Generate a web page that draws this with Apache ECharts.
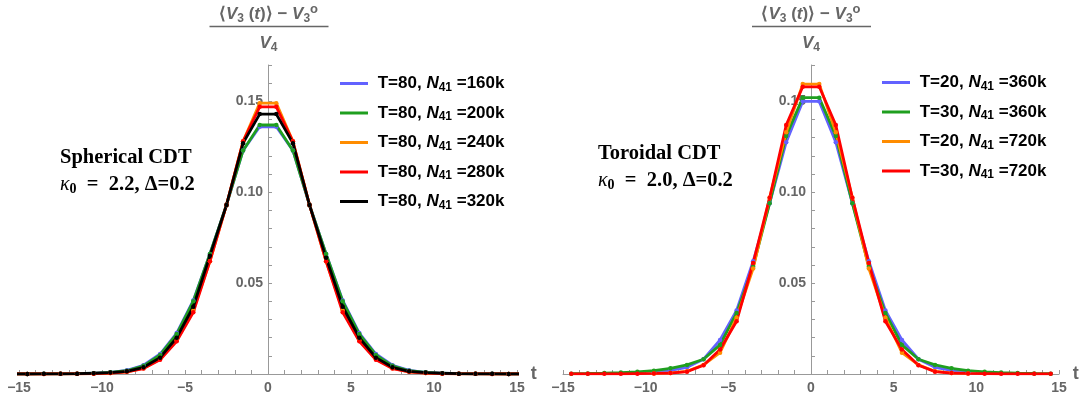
<!DOCTYPE html>
<html><head><meta charset="utf-8">
<script src="https://cdn.jsdelivr.net/npm/echarts@6/dist/echarts.min.js"></script>
<style>html,body{margin:0;padding:0;background:#fff}#c{width:1086px;height:402px}</style>
</head><body><div id="c"></div>
<script>
// ---- Data ----
const tSph = [-15.5,-14.5,-13.5,-12.5,-11.5,-10.5,-9.5,-8.5,-7.5,-6.5,-5.5,-4.5,-3.5,-2.5,-1.5,-0.5,0.5,1.5,2.5,3.5,4.5,5.5,6.5,7.5,8.5,9.5,10.5,11.5,12.5,13.5,14.5,15.5];
const sph160k = [0,0,0.0001,0.0001,0.0002,0.0004,0.0009,0.002,0.0048,0.011,0.0225,0.0405,0.066,0.093,0.123,0.136,0.136,0.123,0.093,0.066,0.0405,0.0225,0.011,0.0048,0.002,0.0009,0.0004,0.0002,0.0001,0.0001,0,0];
const sph200k = [0,0,0.0001,0.0001,0.0002,0.0004,0.0009,0.0018,0.0045,0.0105,0.022,0.040,0.066,0.093,0.123,0.137,0.137,0.123,0.093,0.066,0.040,0.022,0.0105,0.0045,0.0018,0.0009,0.0004,0.0002,0.0001,0.0001,0,0];
const sph240k = [0,0,0,0.0001,0.0001,0.0002,0.0005,0.0012,0.0032,0.0082,0.0185,0.035,0.062,0.093,0.128,0.149,0.149,0.128,0.093,0.062,0.035,0.0185,0.0082,0.0032,0.0012,0.0005,0.0002,0.0001,0.0001,0,0,0];
const sph280k = [0,0,0,0.0001,0.0001,0.0002,0.0005,0.0012,0.003,0.0078,0.018,0.034,0.062,0.093,0.128,0.147,0.147,0.128,0.093,0.062,0.034,0.018,0.0078,0.003,0.0012,0.0005,0.0002,0.0001,0.0001,0,0,0];
const sph320k = [0,0,0.0001,0.0001,0.0002,0.0004,0.0008,0.0015,0.0037,0.009,0.020,0.037,0.065,0.093,0.127,0.143,0.143,0.127,0.093,0.064,0.037,0.020,0.009,0.0037,0.0015,0.0008,0.0004,0.0002,0.0001,0.0001,0,0];

const tTor20 = [-9.5,-8.5,-7.5,-6.5,-5.5,-4.5,-3.5,-2.5,-1.5,-0.5,0.5,1.5,2.5,3.5,4.5,5.5,6.5,7.5,8.5,9.5];
const tTor30 = [-14.5,-13.5,-12.5,-11.5,-10.5,-9.5,-8.5,-7.5,-6.5,-5.5,-4.5,-3.5,-2.5,-1.5,-0.5,0.5,1.5,2.5,3.5,4.5,5.5,6.5,7.5,8.5,9.5,10.5,11.5,12.5,13.5,14.5];
const torT20N360 = [0.001,0.002,0.0037,0.0081,0.0187,0.035,0.062,0.094,0.1275,0.150,0.150,0.1275,0.094,0.062,0.035,0.0187,0.0081,0.0037,0.002,0.001];
const torT30N360 = [0.0002,0.0003,0.0005,0.0008,0.0012,0.0018,0.0031,0.005,0.0081,0.016,0.0335,0.059,0.094,0.131,0.152,0.152,0.131,0.094,0.059,0.0335,0.016,0.0081,0.005,0.0031,0.0018,0.0012,0.0008,0.0005,0.0003,0.0002];
const torT20N720 = [0.0003,0.0006,0.0015,0.005,0.0117,0.031,0.058,0.097,0.133,0.1595,0.1595,0.133,0.097,0.058,0.031,0.0117,0.005,0.0015,0.0006,0.0003];
const torT30N720 = [0.0001,0.0001,0.0001,0.0001,0.0002,0.0003,0.0005,0.0013,0.0048,0.0135,0.029,0.061,0.097,0.137,0.158,0.158,0.137,0.097,0.061,0.029,0.0135,0.0048,0.0013,0.0005,0.0003,0.0002,0.0001,0.0001,0.0001,0.0001];

const namesSph = ['T=80, N41=160k','T=80, N41=200k','T=80, N41=240k','T=80, N41=280k','T=80, N41=320k'];
const namesTor = ['T=20, N41=360k','T=30, N41=360k','T=20, N41=720k','T=30, N41=720k'];
const xTickLabels = {'-15':'\u221215','-10':'\u221210','-5':'\u22125','0':'0','5':'5','10':'10','15':'15'};
const yTickLabels = {5:'0.05',10:'0.10',15:'0.15'};

const C = {blue:'#6262ff', green:'#1f9f1f', orange:'#ff8c00', red:'#ff0000', black:'#000000'};
const zip = (xs, ys) => xs.map((x,i)=>[x, ys[i]]);

function xAx(gi){
  return {type:'value', gridIndex:gi, min:-15, max:15, interval:5,
    axisLine:{onZero:true, lineStyle:{color:'#999', width:1}},
    axisTick:{inside:true, length:4, lineStyle:{color:'#999'}},
    minorTick:{show:true, splitNumber:5, length:4, lineStyle:{color:'#999'}},
    splitLine:{show:false}, minorSplitLine:{show:false},
    axisLabel:{margin:7, color:'#666', fontWeight:'bold', fontSize:14, fontFamily:'Liberation Sans',
      formatter: v => xTickLabels[String(v)] ?? ''},
    name:'t', nameLocation:'end', nameGap:11,
    nameTextStyle:{color:'#666', fontWeight:'bold', fontSize:18, fontFamily:'Liberation Sans', verticalAlign:'middle', padding:[0,0,4,0]}
  };
}
function yAx(gi, off){
  return {type:'value', gridIndex:gi, min:0, max:0.17, interval:0.01, position:'left', offset:off,
    axisLine:{show:true, onZero:false, lineStyle:{color:'#999', width:1}},
    axisTick:{show:true, inside:true, length:4, lineStyle:{color:'#999'}},
    splitLine:{show:false},
    axisLabel:{margin:5, color:'#666', fontWeight:'bold', fontSize:14, fontFamily:'Liberation Sans',
      formatter: v => yTickLabels[Math.round(v*100)] ?? ''}
  };
}
function ser(name, xs, ys, color, gi){
  return {name, type:'line', xAxisIndex:gi, yAxisIndex:gi, data:zip(xs, ys),
    symbol:'circle', symbolSize:4.5, showSymbol:true, clip:true,
    lineStyle:{color, width:2.8}, itemStyle:{color}, emphasis:{disabled:true}};
}
const legRich = {
  b:{fontSize:17, fontWeight:'bold', color:'#000', fontFamily:'Liberation Sans', lineHeight:20},
  i:{fontSize:17, fontWeight:'bold', fontStyle:'italic', color:'#000', fontFamily:'Liberation Sans', lineHeight:20},
  s:{fontSize:12, fontWeight:'bold', color:'#000', fontFamily:'Liberation Sans', lineHeight:12, verticalAlign:'bottom'}
};
const legFmt = name => { const m = name.match(/^(T=\d+, )N41=(\d+k)$/); return '{b| ' + m[1] + '}{i|N}{s|41}{b| =' + m[2] + '}'; };
function leg(data, left, top){
  return {data, left, top, orient:'vertical', icon:'rect', itemWidth:28, itemHeight:3, itemGap:11,
    selectedMode:false, formatter:legFmt, textStyle:{rich:legRich}, padding:0};
}

const fracRich = {
  v:{fontFamily:'Liberation Sans', fontWeight:'bold', fontStyle:'italic', fontSize:17, fill:'#666', lineHeight:22},
  a:{fontFamily:'Liberation Sans', fontWeight:'bold', fontSize:17, fill:'#666', lineHeight:22},
  s:{fontFamily:'Liberation Sans', fontWeight:'bold', fontSize:12, fill:'#666', lineHeight:13, verticalAlign:'bottom'},
  p:{fontFamily:'Liberation Sans', fontWeight:'bold', fontSize:13, fill:'#666', lineHeight:13, verticalAlign:'top'}
};
function frac(cx){
  return [
    {type:'text', x:cx, y:14, z:10, style:{text:'{a|\u27E8}{v|V}{s|3}{a| (}{v|t}{a|)\u27E9 \u2212 }{v|V}{s|3}{p|o}', rich:fracRich, align:'center', verticalAlign:'middle', textAlign:'center', textVerticalAlign:'middle'}},
    {type:'line', z:10, shape:{x1:cx-59, y1:26.5, x2:cx+60, y2:26.5}, style:{stroke:'#666', lineWidth:1.3}},
    {type:'text', x:cx, y:43, z:10, style:{text:'{v|V}{s|4}', rich:fracRich, align:'center', verticalAlign:'middle', textAlign:'center', textVerticalAlign:'middle'}}
  ];
}
const noteRich = {
  k:{fontFamily:'Liberation Serif', fontStyle:'italic', fontSize:20, fill:'#000', lineHeight:22},
  z:{fontFamily:'Liberation Serif', fontWeight:'bold', fontSize:14, fill:'#000', lineHeight:14, verticalAlign:'bottom'},
  b:{fontFamily:'Liberation Serif', fontWeight:'bold', fontSize:20.5, fill:'#000', lineHeight:22}
};
function note(x, y, title, k){
  return [
    {type:'text', x, y, style:{text:title, fill:'#000', font:'bold 20.5px "Liberation Serif"', align:'left', verticalAlign:'middle', textAlign:'left', textVerticalAlign:'middle'}},
    {type:'text', x, y:y+27, style:{text:'{k|\u03BA}{z|0}{b|\u2002=\u2002' + k + ', \u0394=0.2}', rich:noteRich, align:'left', verticalAlign:'middle', textAlign:'left', textVerticalAlign:'middle'}}
  ];
}

const chart = echarts.init(document.getElementById('c'), null, {renderer:'canvas'});
chart.setOption({
  animation:false,
  backgroundColor:'#fff',
  grid:[{left:19, right:569, top:65, bottom:28, containLabel:false, outerBoundsMode:'none'},
        {left:563, right:27, top:65, bottom:28, containLabel:false, outerBoundsMode:'none'}],
  xAxis:[xAx(0), xAx(1)],
  yAxis:[yAx(0, -249), yAx(1, -248)],
  legend:[leg(namesSph, 340, 75), leg(namesTor, 882, 74)],
  series:[
    ser(namesSph[0], tSph, sph160k, C.blue, 0),
    ser(namesSph[1], tSph, sph200k, C.green, 0),
    ser(namesSph[2], tSph, sph240k, C.orange, 0),
    ser(namesSph[3], tSph, sph280k, C.red, 0),
    ser(namesSph[4], tSph, sph320k, C.black, 0),
    ser(namesTor[0], tTor20, torT20N360, C.blue, 1),
    ser(namesTor[1], tTor30, torT30N360, C.green, 1),
    ser(namesTor[2], tTor20, torT20N720, C.orange, 1),
    ser(namesTor[3], tTor30, torT30N720, C.red, 1)
  ],
  graphic: [].concat(frac(268.5), frac(811), note(60, 158, 'Spherical CDT', '2.2'), note(598, 154, 'Toroidal CDT', '2.0'))
});
</script></body></html>
